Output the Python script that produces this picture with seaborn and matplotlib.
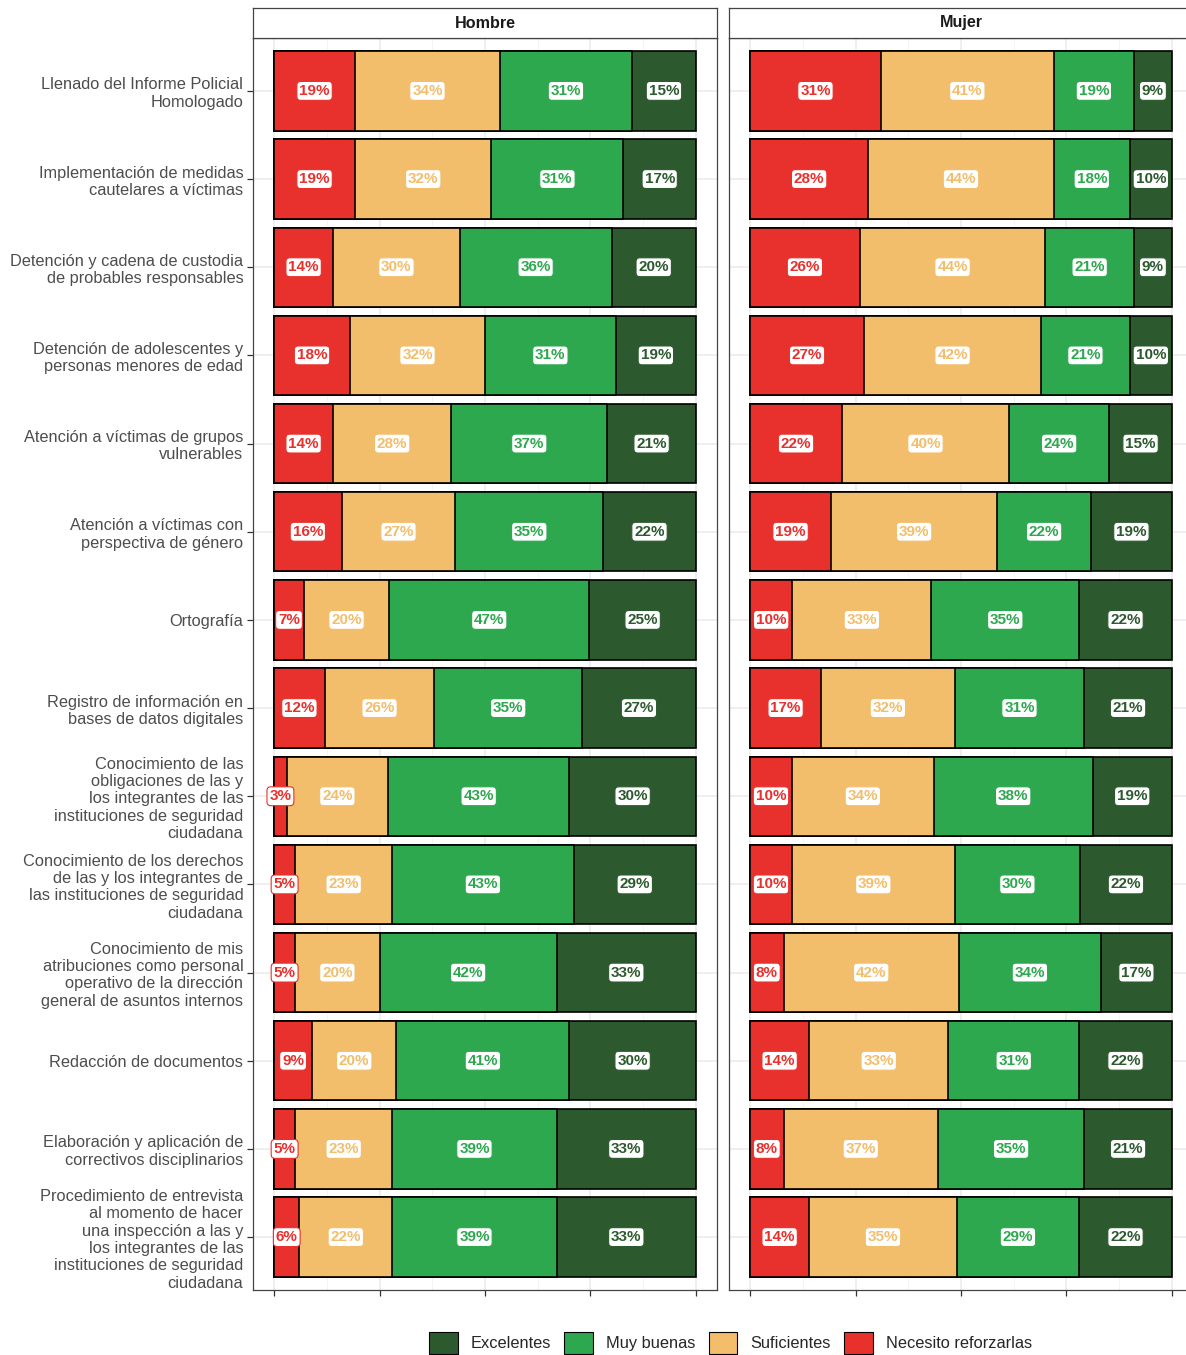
import numpy as np
import pandas as pd
import seaborn as sns
import matplotlib.pyplot as plt
from matplotlib.patches import Patch
from matplotlib.ticker import MultipleLocator

# categorias (de arriba hacia abajo)
categorias = [
    "Llenado del Informe Policial\nHomologado",
    "Implementación de medidas\ncautelares a víctimas",
    "Detención y cadena de custodia\nde probables responsables",
    "Detención de adolescentes y\npersonas menores de edad",
    "Atención a víctimas de grupos\nvulnerables",
    "Atención a víctimas con\nperspectiva de género",
    "Ortografía",
    "Registro de información en\nbases de datos digitales",
    "Conocimiento de las\nobligaciones de las y\nlos integrantes de las\ninstituciones de seguridad\nciudadana",
    "Conocimiento de los derechos\nde las y los integrantes de\nlas instituciones de seguridad\nciudadana",
    "Conocimiento de mis\natribuciones como personal\noperativo de la dirección\ngeneral de asuntos internos",
    "Redacción de documentos",
    "Elaboración y aplicación de\ncorrectivos disciplinarios",
    "Procedimiento de entrevista\nal momento de hacer\nuna inspección a las y\nlos integrantes de las\ninstituciones de seguridad\nciudadana",
]
niveles = ["Necesito reforzarlas", "Suficientes", "Muy buenas", "Excelentes"]
sexos = ["Hombre", "Mujer"]

hombre_reforzar = [19, 19, 14, 18, 14, 16, 7, 12, 3, 5, 5, 9, 5, 6]
hombre_suficientes = [34, 32, 30, 32, 28, 27, 20, 26, 24, 23, 20, 20, 23, 22]
hombre_muy_buenas = [31, 31, 36, 31, 37, 35, 47, 35, 43, 43, 42, 41, 39, 39]
hombre_excelentes = [15, 17, 20, 19, 21, 22, 25, 27, 30, 29, 33, 30, 33, 33]

mujer_reforzar = [31, 28, 26, 27, 22, 19, 10, 17, 10, 10, 8, 14, 8, 14]
mujer_suficientes = [41, 44, 44, 42, 40, 39, 33, 32, 34, 39, 42, 33, 37, 35]
mujer_muy_buenas = [19, 18, 21, 21, 24, 22, 35, 31, 38, 30, 34, 31, 35, 29]
mujer_excelentes = [9, 10, 9, 10, 15, 19, 22, 21, 19, 22, 17, 22, 21, 22]

colores = {
    "Necesito reforzarlas": "#E8302D",
    "Suficientes": "#F2BE6C",
    "Muy buenas": "#2DA84F",
    "Excelentes": "#2C5A2E",
}

# tabla larga
valores = {
    "Hombre": [hombre_reforzar, hombre_suficientes, hombre_muy_buenas, hombre_excelentes],
    "Mujer": [mujer_reforzar, mujer_suficientes, mujer_muy_buenas, mujer_excelentes],
}
filas = []
for sexo in sexos:
    for nivel, serie in zip(niveles, valores[sexo]):
        for cat, v in zip(categorias, serie):
            filas.append({"sexo": sexo, "nivel": nivel, "categoria": cat, "pct": v})
df = pd.DataFrame(filas)
df["nivel"] = pd.Categorical(df["nivel"], niveles, ordered=True)
df = df.sort_values(["sexo", "categoria", "nivel"])
df["share"] = df["pct"] / df.groupby(["sexo", "categoria"])["pct"].transform("sum")
df["cum"] = df.groupby(["sexo", "categoria"])["share"].cumsum()

sns.set_theme(style="whitegrid")
plt.rcParams["font.family"] = ["Liberation Sans", "DejaVu Sans"]

W, H = 1186, 1355
fig = plt.figure(figsize=(W / 100, H / 100), dpi=100)

panel_w = 464 / W
panel_h = 1252 / H
panel_b = 1 - 1290 / H
lefts = [253 / W, 729 / W]

for i, sexo in enumerate(sexos):
    ax = fig.add_axes([lefts[i], panel_b, panel_w, panel_h])
    d = df[df["sexo"] == sexo]
    # barras apiladas: se dibujan los acumulados de mayor a menor
    for nivel in reversed(niveles):
        sub = d[d["nivel"] == nivel]
        sns.barplot(data=sub, x="cum", y="categoria", order=categorias,
                    color=colores[nivel], saturation=1, errorbar=None,
                    edgecolor="black", linewidth=1.2, width=0.9,
                    orient="h", ax=ax)
    # etiquetas
    for _, r in d.iterrows():
        yi = categorias.index(r["categoria"])
        c = colores[r["nivel"]]
        ax.text(r["cum"] - r["share"] / 2, yi, f"{r['pct']}%",
                ha="center", va="center", fontsize=11, fontweight="bold",
                color=c, zorder=5,
                bbox=dict(boxstyle="round,pad=0.16,rounding_size=0.25",
                          fc="white", ec=c, lw=0.8))

    ax.set_xlim(-0.05, 1.05)
    ax.set_ylim(13.6, -0.6)
    ax.set_xlabel("")
    ax.set_ylabel("")
    ax.set_xticks([0, 0.25, 0.5, 0.75, 1])
    ax.set_xticklabels([])
    ax.xaxis.set_minor_locator(MultipleLocator(0.125))
    ax.set_axisbelow(True)
    ax.grid(False)
    ax.grid(which="major", color="#EBEBEB", lw=1.1)
    ax.grid(which="minor", axis="x", color="#F3F3F3", lw=0.6)
    for s in ax.spines.values():
        s.set_visible(True)
        s.set_color("#444444")
        s.set_linewidth(0.9)
    ax.tick_params(axis="x", which="major", bottom=True, length=4, width=0.9,
                   color="#333333")
    ax.tick_params(axis="x", which="minor", bottom=False)
    if i == 0:
        ax.tick_params(axis="y", left=True, length=4, width=0.9, color="#333333",
                       labelsize=11.8, labelcolor="#4D4D4D", pad=3)
    else:
        ax.tick_params(axis="y", left=False, labelleft=False)

    # franja del facet
    sax = fig.add_axes([lefts[i], 1 - 38 / H, panel_w, 30 / H])
    sax.set_xticks([])
    sax.set_yticks([])
    sax.set_facecolor("white")
    for s in sax.spines.values():
        s.set_visible(True)
        s.set_color("#444444")
        s.set_linewidth(0.9)
    sax.text(0.5, 0.5, sexo, ha="center", va="center", fontsize=11.6,
             fontweight="bold", color="#1A1A1A", transform=sax.transAxes)

orden_leyenda = ["Excelentes", "Muy buenas", "Suficientes", "Necesito reforzarlas"]
handles = [Patch(facecolor=colores[n], edgecolor="black", lw=0.8, label=n)
           for n in orden_leyenda]
fig.legend(handles=handles, loc="center", bbox_to_anchor=(0.616, 1 - 1343 / H),
           ncol=4, frameon=False, fontsize=11.8, handlelength=1.75, handleheight=1.7,
           handletextpad=0.8, columnspacing=0.8)

fig.savefig("out.png", dpi=100)
